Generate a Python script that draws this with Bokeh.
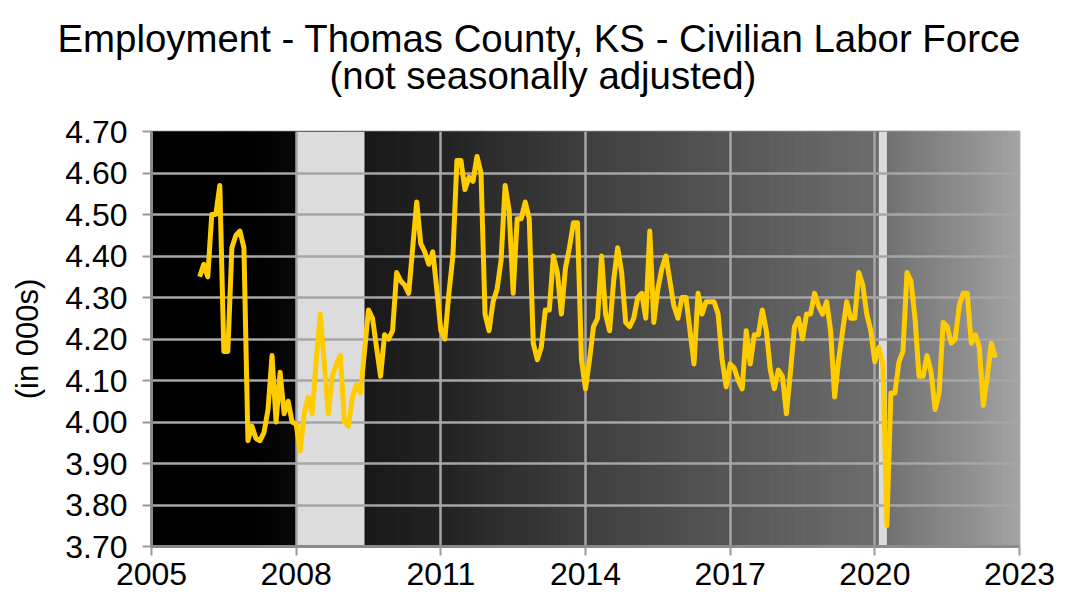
import numpy as np
import pandas as pd
from bokeh.plotting import figure
from bokeh.models import Range1d, FixedTicker, Title, NumeralTickFormatter
from bokeh.embed import file_html
from bokeh.resources import INLINE

# ---------------- data (thousands, monthly, not seasonally adjusted) ----------------
start_month = "2006-01-01"
vals_2006 = [4.35, 4.38, 4.35, 4.50, 4.50, 4.57, 4.17, 4.17, 4.42, 4.45, 4.46, 4.42]
vals_2007 = [3.955, 3.99, 3.96, 3.955, 3.975, 4.03, 4.16, 4.00, 4.12, 4.02, 4.05, 4.00]
vals_2008 = [3.995, 3.93, 4.02, 4.06, 4.02, 4.15, 4.26, 4.14, 4.02, 4.11, 4.14, 4.16]
vals_2009 = [4.00, 3.99, 4.06, 4.09, 4.07, 4.17, 4.27, 4.25, 4.18, 4.11, 4.21, 4.20]
vals_2010 = [4.22, 4.36, 4.34, 4.33, 4.31, 4.42, 4.53, 4.43, 4.41, 4.38, 4.41, 4.32]
vals_2011 = [4.22, 4.20, 4.31, 4.40, 4.63, 4.63, 4.56, 4.59, 4.58, 4.64, 4.60, 4.26]
vals_2012 = [4.22, 4.29, 4.32, 4.39, 4.57, 4.51, 4.31, 4.49, 4.49, 4.53, 4.49, 4.19]
vals_2013 = [4.15, 4.18, 4.27, 4.27, 4.40, 4.36, 4.26, 4.37, 4.42, 4.48, 4.48, 4.15]
vals_2014 = [4.08, 4.15, 4.23, 4.25, 4.40, 4.26, 4.22, 4.34, 4.42, 4.36, 4.24, 4.23]
vals_2015 = [4.25, 4.30, 4.31, 4.25, 4.46, 4.24, 4.32, 4.37, 4.40, 4.34, 4.28, 4.25]
vals_2016 = [4.30, 4.30, 4.22, 4.14, 4.31, 4.26, 4.29, 4.29, 4.29, 4.26, 4.15, 4.085]
vals_2017 = [4.14, 4.13, 4.10, 4.08, 4.22, 4.14, 4.21, 4.21, 4.27, 4.22, 4.125, 4.08]
vals_2018 = [4.125, 4.11, 4.02, 4.12, 4.23, 4.25, 4.20, 4.26, 4.26, 4.31, 4.28, 4.26]
vals_2019 = [4.29, 4.22, 4.06, 4.15, 4.22, 4.29, 4.25, 4.25, 4.36, 4.33, 4.26, 4.22]
vals_2020 = [4.145, 4.18, 4.14, 3.75, 4.07, 4.07, 4.145, 4.17, 4.36, 4.34, 4.25, 4.11]
vals_2021 = [4.11, 4.16, 4.12, 4.03, 4.07, 4.24, 4.23, 4.19, 4.20, 4.28, 4.31, 4.31]
vals_2022 = [4.19, 4.21, 4.18, 4.04, 4.11, 4.19, 4.155]

values = (vals_2006 + vals_2007 + vals_2008 + vals_2009 + vals_2010 + vals_2011 +
          vals_2012 + vals_2013 + vals_2014 + vals_2015 + vals_2016 + vals_2017 +
          vals_2018 + vals_2019 + vals_2020 + vals_2021 + vals_2022)

# recessions (decimal years)
rec_start = [2008.0, 2020.083]
rec_end = [2009.417, 2020.25]

x_ticks = [2005, 2008, 2011, 2014, 2017, 2020, 2023]
y_ticks = [3.70, 3.80, 3.90, 4.00, 4.10, 4.20, 4.30, 4.40, 4.50, 4.60, 4.70]

title_line1 = "Employment - Thomas County, KS - Civilian Labor Force"
title_line2 = "(not seasonally adjusted)"
y_label = "(in 000s)"

# ---------------- derived ----------------
dates = pd.date_range(start_month, periods=len(values), freq="MS")
xdec = dates.year + (dates.month - 1) / 12.0

X0, X1 = x_ticks[0], x_ticks[-1]
Y0, Y1 = y_ticks[0], y_ticks[-1]

FONT = "Liberation Sans"

p = figure(width=1060, height=600, output_backend="svg", toolbar_location=None,
           x_range=Range1d(X0, X1), y_range=Range1d(Y0, Y1), title=None,
           min_border_left=151, min_border_right=41, min_border_top=131,
           min_border_bottom=54)

# background gradient (black -> gray)
edges = np.linspace(X0, X1, 433)
gx = [2005, 2007.0, 2008.0, 2009.5, 2011, 2014, 2017, 2020, 2023]
gv = [0, 1, 10, 26, 36, 64, 88, 110, 164]
mids = (edges[:-1] + edges[1:]) / 2
levels = np.interp(mids, gx, gv).astype(int)
cols = ["#%02x%02x%02x" % (v, v, v) for v in levels]
p.quad(left=edges[:-1], right=edges[1:], bottom=Y0, top=Y1,
       fill_color=cols, line_color=cols, line_width=1, level="image")

# recession bands
p.quad(left=rec_start, right=rec_end, bottom=Y0, top=Y1,
       fill_color="#dcdcdc", line_color=None, level="image")

# data line
p.line(xdec, values, line_color="#FFCC00", line_width=5, line_join="round")

# two-line title (second line is the panel nearest the frame)
p.add_layout(Title(text=title_line2, align="left", offset=178, standoff=70,
                   text_font=FONT, text_font_size="38.4px",
                   text_font_style="normal", text_color="#000000"), "above")
p.add_layout(Title(text=title_line1, align="left", offset=-94, standoff=-86,
                   text_font=FONT, text_font_size="38.4px",
                   text_font_style="normal", text_color="#000000"), "above")

# axes
p.xaxis.ticker = FixedTicker(ticks=x_ticks)
p.yaxis.ticker = FixedTicker(ticks=y_ticks)
p.yaxis.formatter = NumeralTickFormatter(format="0.00")
for ax in (p.xaxis[0], p.yaxis[0]):
    ax.major_label_text_font = FONT
    ax.major_label_text_font_size = "32px"
    ax.major_label_text_color = "#000000"
    ax.axis_line_color = "#8a8a8a"
    ax.axis_line_width = 3
    ax.major_tick_line_color = "#9a9a9a"
    ax.major_tick_line_width = 2
    ax.major_tick_in = 0
    ax.minor_tick_line_color = None
p.xaxis.major_tick_out = 9
p.xaxis.major_label_standoff = 7
p.yaxis.major_tick_out = 9
p.yaxis.major_label_standoff = 15
p.yaxis.axis_label = y_label
p.yaxis.axis_label_text_font = FONT
p.yaxis.axis_label_text_font_size = "31px"
p.yaxis.axis_label_text_font_style = "normal"
p.yaxis.axis_label_text_color = "#000000"
p.yaxis.axis_label_standoff = 17

# grid
p.xgrid.grid_line_color = "#a6a6a6"
p.ygrid.grid_line_color = "#a6a6a6"
p.xgrid.grid_line_width = 2.5
p.ygrid.grid_line_width = 2.5

p.background_fill_color = "#000000"
p.border_fill_color = "#ffffff"
p.outline_line_color = "#b4b4b4"
p.outline_line_width = 2

open("out.html", "w").write(file_html(p, INLINE))
